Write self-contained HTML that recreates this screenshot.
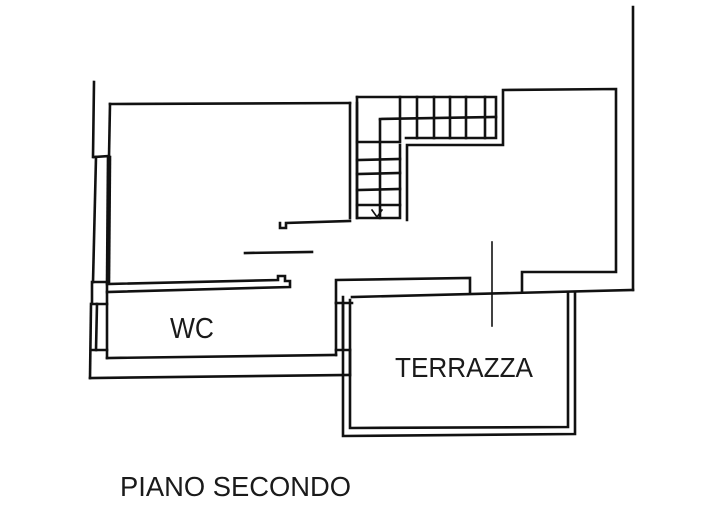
<!DOCTYPE html>
<html><head><meta charset="utf-8"><style>
html,body{margin:0;padding:0;background:#fff;}
svg{display:block;}
text{font-family:"Liberation Sans",sans-serif;fill:#1a1a1a;}
</style></head><body>
<svg width="728" height="530" viewBox="0 0 728 530" xmlns="http://www.w3.org/2000/svg">
<g stroke="#111" stroke-width="2.6" fill="none" stroke-linecap="square">
<line x1="94" y1="82" x2="93" y2="157"/>
<polyline points="110,104 350,103"/>
<line x1="110" y1="104" x2="109" y2="157"/>
<polyline points="94,157 109,156"/>
<line x1="96" y1="157" x2="93" y2="282"/>
<line x1="108" y1="157" x2="107" y2="282"/>
<line x1="110" y1="157" x2="109" y2="282"/>
<polyline points="92,282 107,282 107,304 92,304 92,282"/>
<line x1="91" y1="304" x2="90" y2="378"/>
<line x1="97" y1="304" x2="96" y2="350"/>
<line x1="107" y1="304" x2="107" y2="358"/>
<line x1="91" y1="350" x2="107" y2="350"/>
<polyline points="107,284 278,280 278,276 285,276 285,281 290,281 290,287 107,292"/>
<polyline points="107,358 336,355"/>
<polyline points="90,378 350,375"/>
<line x1="336" y1="303" x2="336" y2="355"/>
<line x1="343" y1="303" x2="343" y2="349"/>
<polyline points="336,303 352,303"/>
<line x1="350" y1="375" x2="350" y2="350"/>
<polyline points="336,350 350,350"/>
<line x1="350" y1="103" x2="350" y2="218"/>
<line x1="357" y1="103" x2="357" y2="218"/>
<polyline points="280,223 280,228 286,228 286,223 350,221"/>
<line x1="245" y1="253" x2="312" y2="252"/>
<polyline points="357,97 496,97 496,138 406,138"/>
<polyline points="357,97 357,218 400,218 400,145"/>
<line x1="380" y1="120" x2="380" y2="218"/>
<line x1="380" y1="119" x2="496" y2="117"/>
<line x1="400" y1="97" x2="400" y2="140"/>
<line x1="417" y1="97" x2="417" y2="138"/>
<line x1="434" y1="97" x2="434" y2="138"/>
<line x1="450" y1="97" x2="450" y2="138"/>
<line x1="466" y1="97" x2="466" y2="138"/>
<line x1="485" y1="97" x2="485" y2="138"/>
<line x1="357" y1="142" x2="400" y2="142"/>
<line x1="357" y1="160" x2="400" y2="159"/>
<line x1="357" y1="174" x2="400" y2="173"/>
<line x1="357" y1="190" x2="400" y2="189"/>
<line x1="357" y1="205" x2="400" y2="205"/>
<polyline points="372,210 377,217 382,210" stroke-width="1.6"/>
<polyline points="407,220 407,145 503,145 503,90 616,89 616,272 522,272 522,292"/>
<line x1="633" y1="7" x2="633" y2="290"/>
<polyline points="336,303 336,280 470,278 470,293"/>
<line x1="352" y1="297" x2="633" y2="290"/>
<line x1="492" y1="242" x2="492" y2="326" stroke-width="1.6"/>
<polyline points="343,297 343,436 575,434 575,292"/>
<polyline points="350,300 350,428 568,427 568,292"/>
</g>
<text x="170" y="338" font-size="29" textLength="44" lengthAdjust="spacingAndGlyphs">WC</text>
<text x="395" y="377" font-size="28" textLength="138" lengthAdjust="spacingAndGlyphs">TERRAZZA</text>
<text x="120" y="496" font-size="28" textLength="231" lengthAdjust="spacingAndGlyphs">PIANO SECONDO</text>
</svg>
</body></html>
